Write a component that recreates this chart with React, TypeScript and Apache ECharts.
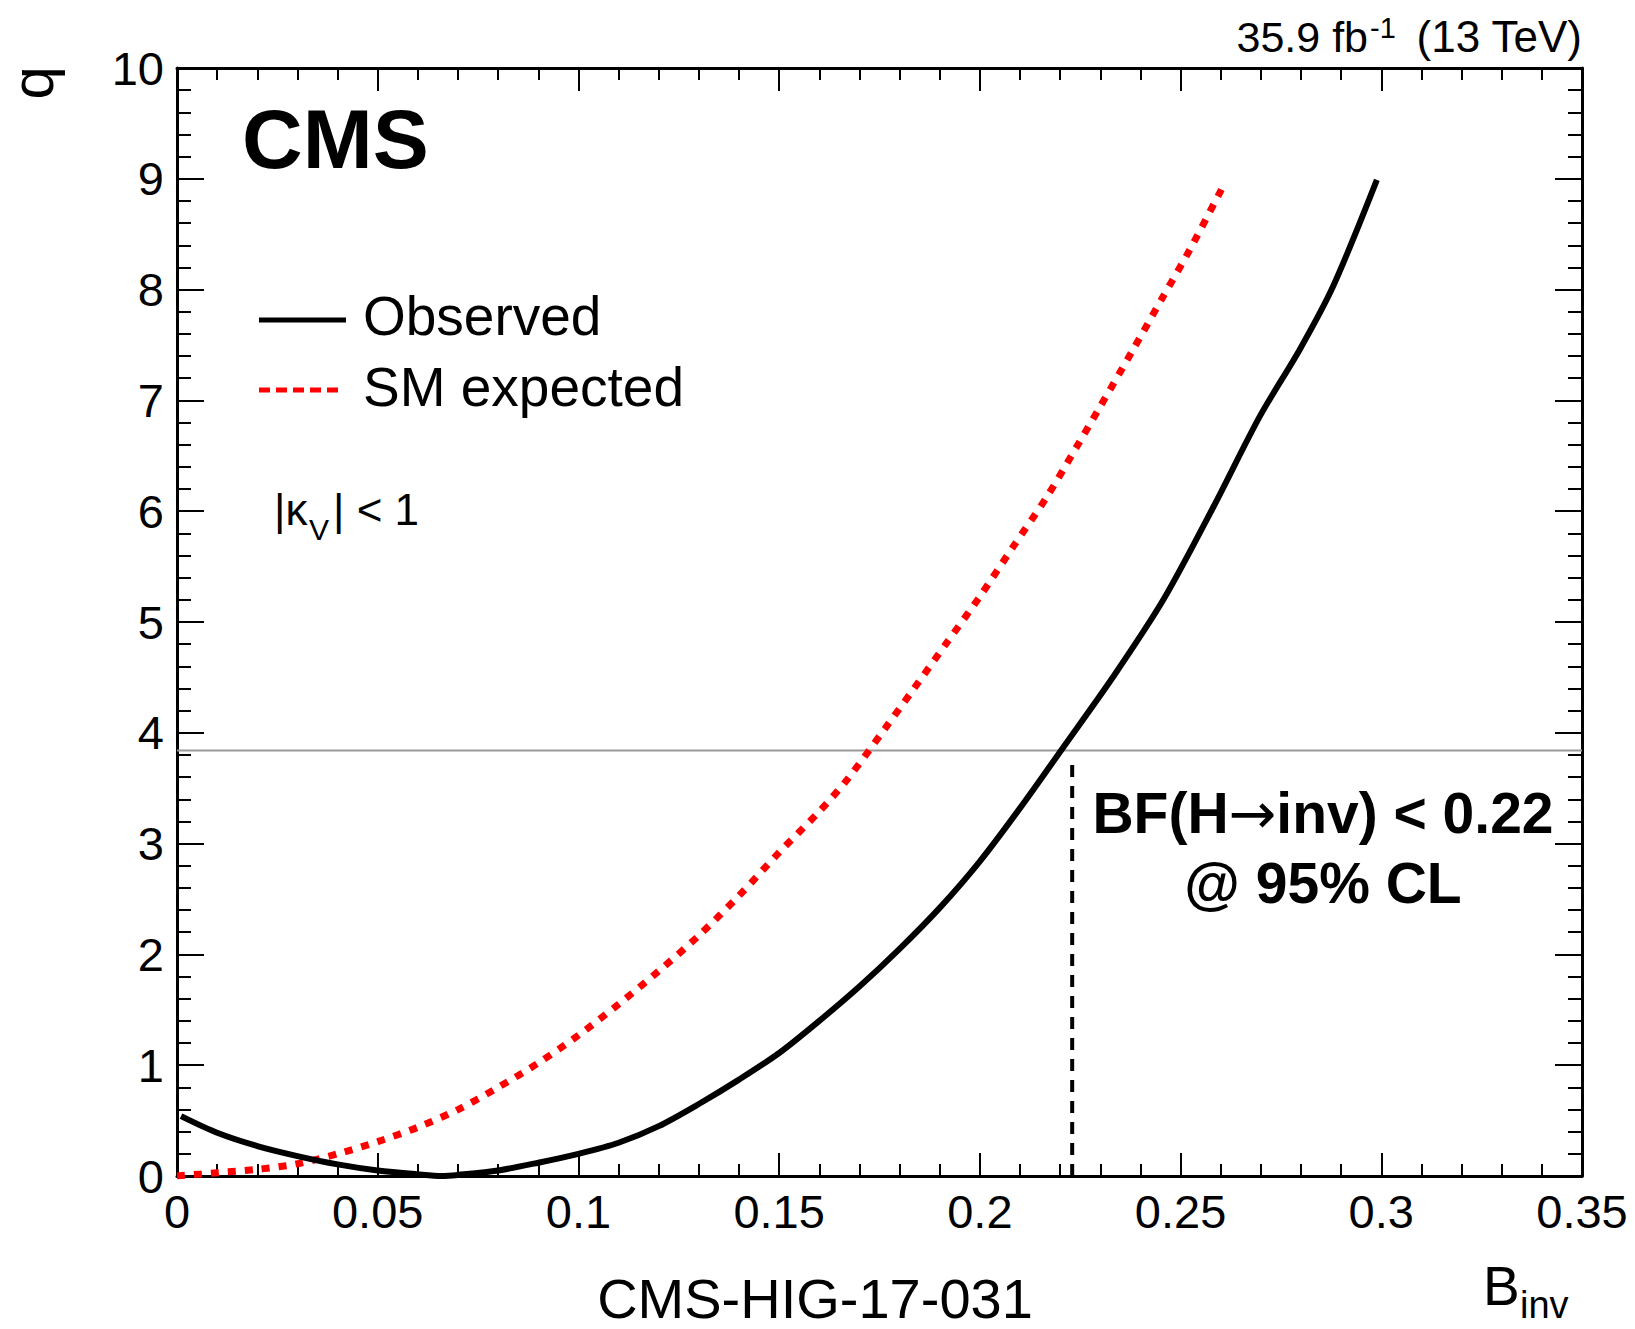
import React, { useEffect, useRef } from "react";
import * as echarts from "echarts";

// ---- data ----
const OBS_B = [0.001, 0.01, 0.02, 0.03, 0.04, 0.05, 0.06, 0.066, 0.07, 0.08, 0.09, 0.1, 0.11, 0.12, 0.13, 0.14, 0.15, 0.16, 0.17, 0.18, 0.19, 0.2, 0.21, 0.2208, 0.2333, 0.2457, 0.2582, 0.2698, 0.2797, 0.288, 0.2989];
const OBS_Q = [0.54, 0.39, 0.27, 0.18, 0.105, 0.05, 0.015, 0.0, 0.01, 0.05, 0.12, 0.2, 0.3, 0.45, 0.65, 0.87, 1.11, 1.4, 1.71, 2.05, 2.42, 2.84, 3.32, 3.87, 4.51, 5.2, 6.04, 6.86, 7.46, 8.03, 8.99];
const EXP_B = [0.0, 0.01, 0.02, 0.03, 0.04, 0.05, 0.06, 0.07, 0.08, 0.09, 0.1, 0.11, 0.12, 0.13, 0.14, 0.15, 0.16, 0.167, 0.1764, 0.1834, 0.1917, 0.2, 0.2083, 0.2167, 0.2249, 0.2299, 0.2382, 0.2457, 0.2523, 0.2607];
const EXP_Q = [0.0, 0.03, 0.06, 0.11, 0.2, 0.31, 0.44, 0.6, 0.8, 1.02, 1.27, 1.55, 1.85, 2.17, 2.53, 2.92, 3.29, 3.58, 4.04, 4.39, 4.81, 5.23, 5.68, 6.13, 6.63, 6.94, 7.46, 7.94, 8.36, 8.94];
const Q_95CL = 3.84;
const B_LIMIT = 0.223;
const X_MIN = 0, X_MAX = 0.35, X_STEP = 0.05;
const Y_MIN = 0, Y_MAX = 10, Y_STEP = 1;
const SERIES_NAMES = ["Observed", "SM expected"];
const LUMI_TEXT = ["35.9 fb", "-1", " (13 TeV)"];
const RESULT_LINE2 = "@ 95% CL";
const FOOTER_TEXT = "CMS-HIG-17-031";

const FONT = '"Liberation Sans", Arial, Helvetica, sans-serif';

const W = 1635, H = 1329;
const GL = 177, GT = 68, GR = 1582, GB = 1176;

function txt(text: string, x: number, y: number, size: number, opts: any = {}) {
  return {
    type: "text",
    silent: true,
    z: 100,
    rotation: opts.rotation || 0,
    x: opts.rotation ? x : 0,
    y: opts.rotation ? y : 0,
    style: {
      text,
      x: opts.rotation ? 0 : x,
      y: opts.rotation ? 0 : y,
      fill: "#000",
      fontSize: size,
      fontFamily: FONT,
      fontWeight: opts.bold ? "bold" : "normal",
      textAlign: opts.align || "left",
      textVerticalAlign: "middle",
      rich: opts.rich,
    },
  };
}

function mid(baseline: number, size: number) {
  return baseline - 0.35 * size;
}

export default function App() {
  const ref = useRef<HTMLDivElement>(null);
  useEffect(() => {
    if (!ref.current) return;
    const chart = echarts.init(ref.current, null, { renderer: "svg" });
    const obs = OBS_B.map((b, i) => [b, OBS_Q[i]]);
    const exp = EXP_B.map((b, i) => [b, EXP_Q[i]]);
    const axisLine = { show: true, onZero: false, lineStyle: { color: "#000", width: 3 } };
    const xFmt = (v: number) => (v === 0 ? "0" : String(parseFloat(v.toFixed(2))));
    const commonX = {
      type: "value",
      min: X_MIN,
      max: X_MAX,
      interval: X_STEP,
      axisLine,
      splitLine: { show: false },
      axisTick: { show: true, inside: true, length: 23, lineStyle: { color: "#000", width: 2 } },
      minorTick: { show: true, splitNumber: 5, length: 12, lineStyle: { color: "#000", width: 2 } },
    };
    const commonY = {
      type: "value",
      min: Y_MIN,
      max: Y_MAX,
      interval: Y_STEP,
      axisLine,
      splitLine: { show: false },
      axisTick: { show: true, inside: true, length: 27, lineStyle: { color: "#000", width: 2 } },
      minorTick: { show: true, splitNumber: 5, length: 14, lineStyle: { color: "#000", width: 2 } },
    };
    const resultRich = {
      a: { fontSize: 57, fontFamily: FONT, fontWeight: "bold", color: "#000" },
      arr: { fontSize: 57, fontFamily: '"DejaVu Sans", sans-serif', fontWeight: "normal", color: "#000" },
    };
    const graphic: any[] = [
      txt("CMS", 242, mid(168, 84), 84, { bold: true }),
      // luminosity label
      txt(LUMI_TEXT[2], GR, mid(52, 44), 44, { align: "right" }),
      txt(LUMI_TEXT[1], 1370, mid(38, 29), 29, { align: "left" }),
      txt(LUMI_TEXT[0], 1368, mid(52, 43), 43, { align: "right" }),
      // legend
      { type: "line", silent: true, z: 100, shape: { x1: 259, y1: 320, x2: 346, y2: 320 }, style: { stroke: "#000", lineWidth: 5 } },
      txt(SERIES_NAMES[0], 363, mid(335, 55), 55),
      { type: "line", silent: true, z: 100, shape: { x1: 259, y1: 390, x2: 340, y2: 390 }, style: { stroke: "#ff0000", lineWidth: 5, lineDash: [11, 6] } },
      txt(SERIES_NAMES[1], 363, mid(406, 55), 55),
      // |kappa_V| < 1
      txt("|\u03ba", 274, mid(525, 44), 44),
      txt("V", 309, mid(540, 30), 30),
      txt("| < 1", 333, mid(525, 44), 44),
      // result
      txt("{a|BF(H}{arr|\u2192}{a|inv) < 0.22}", 1323, mid(833, 57), 57, { bold: true, align: "center", rich: resultRich }),
      txt(RESULT_LINE2, 1323, mid(903, 57), 57, { bold: true, align: "center" }),
      // axis titles
      txt("q", 32, 66, 60, { rotation: Math.PI / 2, align: "right" }),
      txt("B", 1483, mid(1305, 55), 55),
      txt("inv", 1520, mid(1318, 38), 38),
      txt(FOOTER_TEXT, 815, mid(1318, 56), 56, { align: "center" }),
    ];
    chart.setOption({
      animation: false,
      backgroundColor: "#fff",
      grid: { left: GL, top: GT, right: W - GR, bottom: H - GB, containLabel: false },
      xAxis: [
        {
          ...commonX,
          position: "bottom",
          axisLabel: { show: true, formatter: xFmt, fontSize: 47, fontFamily: FONT, color: "#000", margin: 12 },
        },
        { ...commonX, position: "top", axisLabel: { show: false } },
      ],
      yAxis: [
        {
          ...commonY,
          position: "left",
          axisLabel: { show: true, fontSize: 47, fontFamily: FONT, color: "#000", margin: 13 },
        },
        { ...commonY, position: "right", axisLabel: { show: false } },
      ],
      series: [
        {
          name: "95% CL threshold",
          type: "line",
          data: [[X_MIN, Q_95CL], [X_MAX, Q_95CL]],
          symbol: "none",
          lineStyle: { color: "#999999", width: 2 },
          z: 1,
          silent: true,
        },
        {
          name: "Limit",
          type: "line",
          data: [[B_LIMIT, Y_MIN], [B_LIMIT, Q_95CL - 0.07]],
          symbol: "none",
          lineStyle: { color: "#000", width: 4, type: [12, 9] },
          z: 2,
          silent: true,
        },
        {
          name: SERIES_NAMES[1],
          type: "line",
          data: exp,
          symbol: "none",
          smooth: 0.3,
          lineStyle: { color: "#ff0000", width: 7, type: [8, 9] },
          z: 3,
          silent: true,
        },
        {
          name: SERIES_NAMES[0],
          type: "line",
          data: obs,
          symbol: "none",
          smooth: 0.3,
          lineStyle: { color: "#000", width: 6 },
          z: 4,
          silent: true,
        },
      ],
      graphic,
    });
    return () => chart.dispose();
  }, []);
  return (
    <div
      ref={ref}
      style={{ position: "fixed", left: 0, top: 0, width: W, height: H, background: "#fff" }}
    />
  );
}
